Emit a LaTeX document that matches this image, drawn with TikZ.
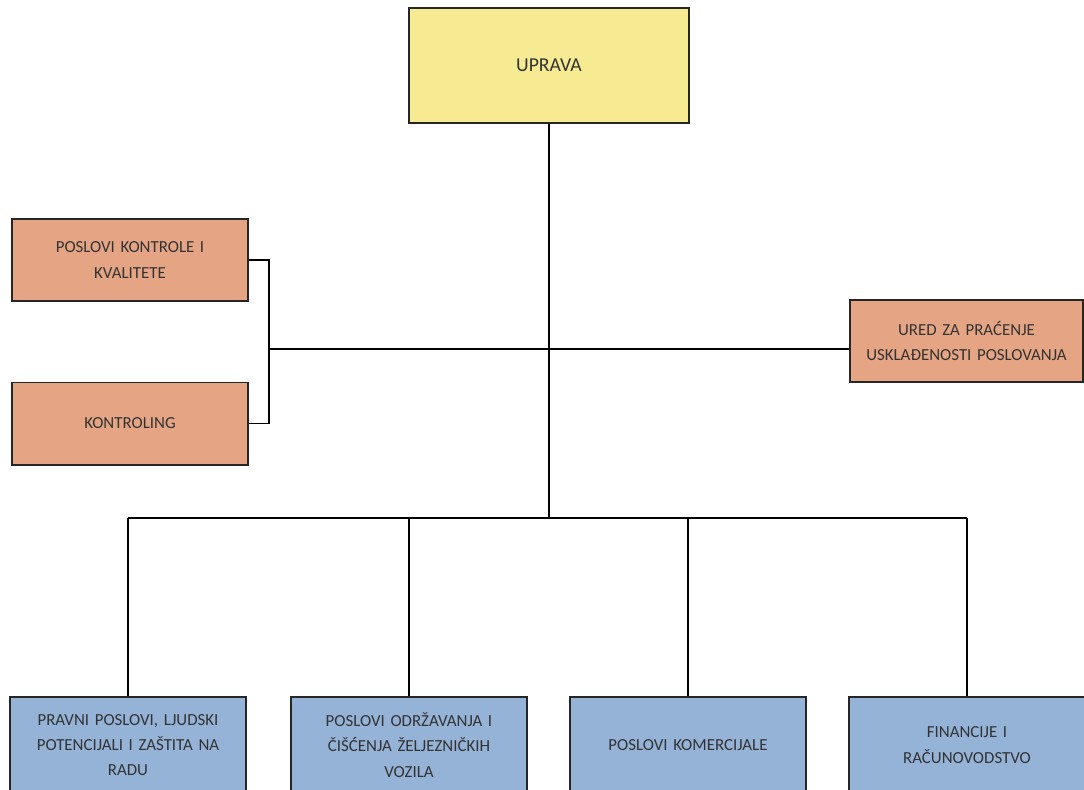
\documentclass[tikz,border=0pt]{standalone}
\usepackage{fontspec}
\setmainfont{Carlito}
\usetikzlibrary{positioning}
\definecolor{upravaFill}{RGB}{246,234,146}
\definecolor{staffFill}{RGB}{229,165,133}
\definecolor{unitFill}{RGB}{149,179,215}

\begin{document}
\begin{tikzpicture}[x=0.025cm, y=-0.025cm, line width=1.3pt,
      unitbox/.style={draw=black!85, line width=1.4pt, align=center, text width=5.6cm,
        minimum width=5.9cm, minimum height=2.05cm, text=black!80,
        font=\fontsize{12}{18}\selectfont},
      topbox/.style={unitbox, fill=upravaFill, minimum width=7cm, minimum height=2.875cm,
        font=\fontsize{14}{16}\selectfont},
      staffbox/.style={unitbox, fill=staffFill},
      deptbox/.style={unitbox, fill=unitFill, minimum height=2.4cm}]
    \useasboundingbox (0,0) rectangle (1084,789);
    \node (uprava) [topbox] at (549,65.5) {UPRAVA};
    \node (kontrole) [staffbox] at (130,260) {POSLOVI KONTROLE I\\KVALITETE};
    \node (kontroling) [staffbox] at (130,423.5) {KONTROLING};
    \node (ured) [staffbox, minimum width=5.78cm] at (966.5,341) {URED ZA PRAĆENJE\\USKLAĐENOSTI POSLOVANJA};
    \node (pravni) [deptbox] at (128,745) {PRAVNI POSLOVI, LJUDSKI\\POTENCIJALI I ZAŠTITA NA\\RADU};
    \node (odrzavanje) [deptbox] at (409,745) {POSLOVI ODRŽAVANJA I\\ČIŠĆENJA ŽELJEZNIČKIH\\VOZILA};
    \node (komercijala) [deptbox] at (688,745) {POSLOVI KOMERCIJALE};
    \node (financije) [deptbox] at (967,745) {FINANCIJE I\\RAČUNOVODSTVO};
    \coordinate (hub) at (549,518);
    \coordinate (bracket) at (269,349);
    % staff units
    \draw (uprava) -- (hub);
    \draw (kontrole.east) -| (bracket) |- (kontroling.east);
    \draw (bracket) -- (bracket -| ured.west);
    % departments
    \draw (hub -| pravni) -- (hub -| financije);
    \foreach \dept in {pravni, odrzavanje, komercijala, financije}
      \draw (hub -| \dept) -- (\dept.north);
\end{tikzpicture}
\end{document}
